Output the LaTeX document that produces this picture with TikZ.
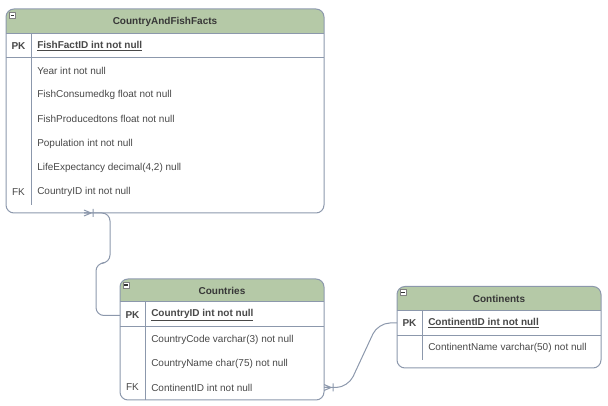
\documentclass[tikz,border=0pt]{standalone}
\usepackage{fontspec}
\setmainfont{Liberation Sans}
\usetikzlibrary{positioning}

\definecolor{hdrgreen}{RGB}{181,201,167}
\definecolor{tblline}{RGB}{140,152,172}
\definecolor{txtgray}{RGB}{72,72,72}
\definecolor{ttlgray}{RGB}{55,55,55}

\begin{document}
\begin{tikzpicture}[x=0.75pt, y=-0.75pt, line join=round,
  tbl/.style={draw=tblline, line width=0.75pt, rounded corners=6},
  rule/.style={draw=tblline, line width=0.75pt},
  conn/.style={draw=tblline, line width=0.75pt, rounded corners=6},
  title/.style={font=\fontsize{7.5}{9}\selectfont\bfseries, text=ttlgray, inner sep=0},
  keycol/.style={font=\fontsize{7.5}{9}\selectfont, text=txtgray, inner sep=0},
  pkcol/.style={keycol, font=\fontsize{7.5}{9}\selectfont\bfseries},
  field/.style={font=\fontsize{7.5}{9}\selectfont, text=txtgray, anchor=west, inner sep=0},
  pkfield/.style={field, font=\fontsize{7.5}{9}\selectfont\bfseries},
  crowfoot/.pic={
    \draw[draw=tblline, line width=0.75pt] (0,0) -- (7,0) (0,-3) -- (7,0) -- (0,3) (9,-4) -- (9,4);
  },
  minusbox/.pic={
    \draw[draw=gray, fill=white, line width=0.5pt] (0,0) rectangle (6,6);
    \draw[draw=black!80, line width=0.9pt] (1.3,3) -- (4.7,3);
  }]
  \useasboundingbox (0,0) rectangle (608,406);

  % CountryAndFishFacts
  \begin{scope}
    \clip[rounded corners=6] (6,9) rectangle (324,213);
    \fill[hdrgreen] (6,9) rectangle (324,34);
  \end{scope}
  \draw[tbl] (6,9) rectangle (324,213);
  \draw[rule] (6,34) -- (324,34);
  \draw[rule] (6,58) -- (324,58);
  \draw[rule] (31,34) -- (31,205);
  \pic at (9.5,12.5) {minusbox};
  \node[title] (cff-title) at (165,21.5) {CountryAndFishFacts};
  \node[pkcol] (cff-pk) at (18.5,46) {PK};
  \node[pkfield] (cff-id) at (37,46) {\underline{FishFactID int not null}};
  \node[field] (cff-year) at (37,71) {Year int not null};
  \node[field] (cff-cons) at (37,95) {FishConsumedkg float not null};
  \node[field] (cff-prod) at (37,119) {FishProducedtons float not null};
  \node[field] (cff-pop) at (37,143.5) {Population int not null};
  \node[field] (cff-life) at (37,168) {LifeExpectancy decimal(4,2) null};
  \node[keycol] (cff-fk) at (18.5,192) {FK};
  \node[field] (cff-cid) at (37,192) {CountryID int not null};
  \coordinate (cff-end) at (84,213);

  % Countries
  \begin{scope}
    \clip[rounded corners=6] (120,279) rectangle (324,400);
    \fill[hdrgreen] (120,279) rectangle (324,302);
  \end{scope}
  \draw[tbl] (120,279) rectangle (324,400);
  \draw[rule] (120,302) -- (324,302);
  \draw[rule] (120,327) -- (324,327);
  \draw[rule] (145,302) -- (145,400);
  \pic at (123,282) {minusbox};
  \node[title] (cty-title) at (222,290.5) {Countries};
  \node[pkcol] (cty-pk) at (132.5,315.5) {PK};
  \node[pkfield] (cty-id) at (151,315.5) {\underline{CountryID int not null}};
  \node[field] (cty-code) at (151,339.5) {CountryCode varchar(3) not null};
  \node[field] (cty-name) at (151,364) {CountryName char(75) not null};
  \node[keycol] (cty-fk) at (132.5,387.5) {FK};
  \node[field] (cty-cont) at (151,387.5) {ContinentID int not null};
  \coordinate (cty-pk-w) at (120,315.5);
  \coordinate (cty-fk-e) at (324,387.5);

  % Continents
  \begin{scope}
    \clip[rounded corners=6] (397,286.5) rectangle (601,368);
    \fill[hdrgreen] (397,286.5) rectangle (601,311);
  \end{scope}
  \draw[tbl] (397,286.5) rectangle (601,368);
  \draw[rule] (397,311) -- (601,311);
  \draw[rule] (397,335.5) -- (601,335.5);
  \draw[rule] (422,311) -- (422,360);
  \pic at (400,289.5) {minusbox};
  \node[title] (cnt-title) at (499,299) {Continents};
  \node[pkcol] (cnt-pk) at (409.5,323) {PK};
  \node[pkfield] (cnt-id) at (428,323) {\underline{ContinentID int not null}};
  \node[field] (cnt-name) at (428,348) {ContinentName varchar(50) not null};
  \coordinate (cnt-pk-w) at (397,323);

  % relationships
  \draw[conn] (cty-pk-w) -| (96,263) -| (110,213) -- (cff-end);
  \pic at (cff-end) {crowfoot};
  \draw[conn, rounded corners=9] (cnt-pk-w) -- (378,323) -- (348,387.5) -- (cty-fk-e);
  \pic at (cty-fk-e) {crowfoot};
\end{tikzpicture}
\end{document}
